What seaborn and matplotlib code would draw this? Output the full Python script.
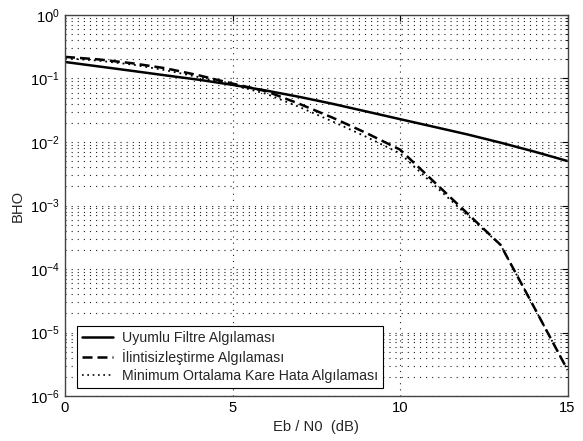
import matplotlib
matplotlib.use('Agg')
import matplotlib.pyplot as plt
import numpy as np
import pandas as pd
import seaborn as sns
from matplotlib.ticker import LogLocator, NullFormatter
from matplotlib.lines import Line2D

# Data
ebn0 = list(range(16))
uyumlu = [0.182, 0.155, 0.132, 0.112, 0.0955, 0.0794, 0.0646, 0.0513,
          0.0398, 0.0302, 0.0229, 0.0174, 0.0132, 0.00977, 0.00708, 0.00501]
ilintisiz = [0.219, 0.200, 0.174, 0.145, 0.112, 0.0832, 0.0631, 0.0398,
             0.0240, 0.0138, 0.00759, 0.00240, 0.000759, 0.000240, 2.51e-5, 2.57e-6]
mmse = [0.209, 0.191, 0.166, 0.135, 0.105, 0.0794, 0.0575, 0.0355,
        0.0209, 0.0120, 0.00661, 0.00214, 0.000708, 0.000240, 2.51e-5, 2.57e-6]
labels = ['Uyumlu Filtre Algılaması', 'İlintisizleştirme Algılaması',
          'Minimum Ortalama Kare Hata Algılaması']

df = pd.DataFrame({
    'x': ebn0 * 3,
    'y': uyumlu + ilintisiz + mmse,
    'yontem': [labels[0]] * 16 + [labels[1]] * 16 + [labels[2]] * 16,
})

sns.set_style('white')
plt.rcParams['font.family'] = ['Liberation Sans', 'DejaVu Sans']
plt.rcParams['mathtext.fontset'] = 'custom'
plt.rcParams['mathtext.rm'] = 'Liberation Sans'
plt.rcParams['mathtext.it'] = 'Liberation Sans'

fs = 10.6
fig = plt.figure(figsize=(5.83, 4.41), dpi=100)
ax = fig.add_axes([0.1115, 0.102, 0.862, 0.864])

styles = {labels[0]: ((0, ()), 1.8),
          labels[1]: ((0, (4, 2)), 1.8),
          labels[2]: ((0, (1, 2.2)), 1.3)}
for lab in labels:
    sub = df[df['yontem'] == lab]
    sns.lineplot(data=sub, x='x', y='y', color='black',
                 linestyle=styles[lab][0], linewidth=styles[lab][1],
                 ax=ax, legend=False)

ax.set_yscale('log')
ax.set_xlim(0, 15)
ax.set_ylim(1e-6, 1)
ax.set_xticks([0, 5, 10, 15])
ax.yaxis.set_major_locator(LogLocator(base=10, numticks=10))
ax.yaxis.set_minor_locator(LogLocator(base=10, subs=np.arange(2, 10), numticks=100))
ax.yaxis.set_minor_formatter(NullFormatter())

grid_ls = (0, (1, 4.5))
ax.grid(True, which='major', axis='both', color='#222222', linestyle=grid_ls, linewidth=0.8)
ax.grid(True, which='minor', axis='y', color='#222222', linestyle=grid_ls, linewidth=0.8)

for s in ax.spines.values():
    s.set_color('#444444')
    s.set_linewidth(1.0)
ax.tick_params(which='both', direction='in', top=True, right=True, labelsize=fs, colors='black')
ax.tick_params(which='major', length=4)
ax.tick_params(which='minor', length=2)

ax.set_xlabel('Eb / N0  (dB)', fontsize=fs)
ax.set_ylabel('BHO', fontsize=fs)

handles = [Line2D([], [], color='black', lw=1.8, linestyle='-'),
           Line2D([], [], color='black', lw=1.8, linestyle=(0, (4, 2))),
           Line2D([], [], color='black', lw=1.2, linestyle=(0, (1, 2.2)))]
leg = ax.legend(handles, labels, loc='lower left', bbox_to_anchor=(0.024, 0.021),
                borderaxespad=0, fontsize=10.2, frameon=True, fancybox=False,
                framealpha=1, edgecolor='black', handlelength=2.2,
                borderpad=0.35, labelspacing=0.3, handletextpad=0.6)
leg.get_frame().set_linewidth(0.8)

fig.savefig('out.png', dpi=100)
